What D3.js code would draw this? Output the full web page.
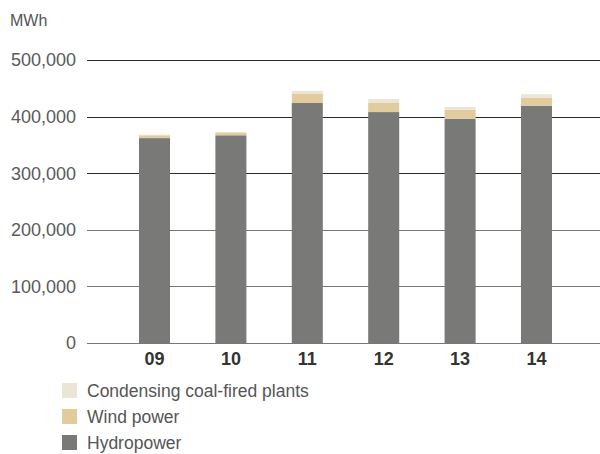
<!DOCTYPE html>
<html><head><meta charset="utf-8">
<script src="https://cdn.jsdelivr.net/npm/d3@7"></script>
<style>body{margin:0;background:#fff}svg{display:block}</style>
</head><body>
<svg id="c" width="600" height="454"></svg>
<script>
const years = ["09","10","11","12","13","14"];
const hydro = [362000, 367000, 424000, 408000, 396000, 419000];
const wind = [5000, 5000, 16000, 16000, 16000, 14000];
const coal = [1000, 0, 5500, 7000, 5000, 6500];
const yTicks = [0, 100000, 200000, 300000, 400000, 500000];
const seriesNames = ["Hydropower", "Wind power", "Condensing coal-fired plants"];
const colors = ["#797977", "#e2cb9c", "#ebe5d6"];

const svg = d3.select("#c");
const font = "'Liberation Sans', Arial, Helvetica, sans-serif";
const y = d3.scaleLinear().domain([0, 500000]).range([343, 60]);
const x = d3.scaleBand().domain(years).range([116.3, 574.7]).paddingInner(0.594).paddingOuter(0.297);

svg.append("text").attr("x", 10).attr("y", 26).text("MWh")
  .attr("font-family", font).attr("font-size", 16).attr("fill", "#555");

const gy = svg.append("g");
yTicks.forEach(t => {
  gy.append("line").attr("x1", 87).attr("x2", 600)
    .attr("y1", Math.round(y(t)) + 0.5).attr("y2", Math.round(y(t)) + 0.5)
    .attr("stroke", t <= 200000 ? "#777" : "#2a2a2a").attr("stroke-width", 1);
  gy.append("text").attr("x", 76).attr("y", y(t)).attr("dy", "0.36em")
    .attr("text-anchor", "end").attr("font-family", font).attr("font-size", 18)
    .attr("fill", "#5a5a5a").text(d3.format(",")(t));
});

const data = years.map((yr, i) => ({year: yr, Hydropower: hydro[i], "Wind power": wind[i], "Condensing coal-fired plants": coal[i]}));
const stack = d3.stack().keys(seriesNames)(data);
svg.append("g").selectAll("g").data(stack).join("g")
  .attr("fill", (d, i) => colors[i])
  .selectAll("rect").data(d => d).join("rect")
  .attr("x", d => x(d.data.year)).attr("width", x.bandwidth())
  .attr("y", d => y(d[1])).attr("height", d => y(d[0]) - y(d[1]));

svg.append("g").selectAll("text").data(years).join("text")
  .attr("x", d => x(d) + x.bandwidth() / 2).attr("y", 365)
  .attr("text-anchor", "middle").attr("font-family", font).attr("font-size", 18)
  .attr("font-weight", "bold").attr("fill", "#333").text(d => d);

const legendOrder = [2, 1, 0];
const lg = svg.append("g");
legendOrder.forEach((si, r) => {
  lg.append("rect").attr("x", 62).attr("y", 383 + r * 26).attr("width", 15).attr("height", 15).attr("fill", colors[si]);
  lg.append("text").attr("x", 87).attr("y", 390.5 + r * 26).attr("dy", "0.36em")
    .attr("font-family", font).attr("font-size", 17.5).attr("fill", "#555").text(seriesNames[si]);
});
</script>
</body></html>
